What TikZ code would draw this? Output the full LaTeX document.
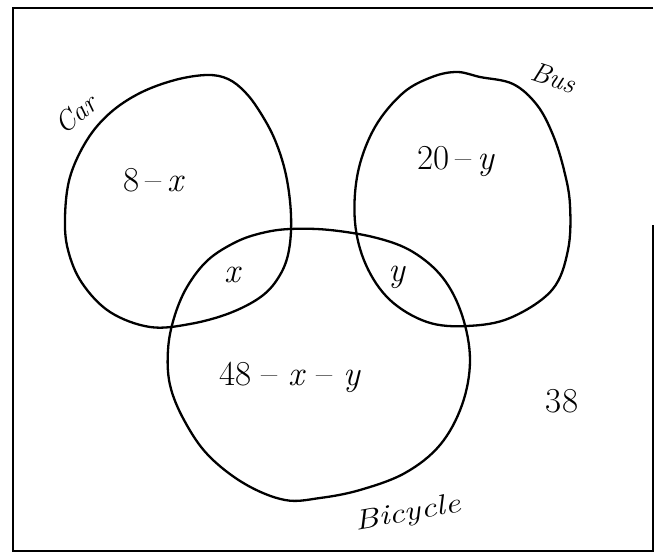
\documentclass[tikz,border=0pt]{standalone}
\usepackage{fontspec}
\begin{document}
\begin{tikzpicture}[x=1pt,y=-1pt,
  setline/.style={line width=2.3pt,line join=round,line cap=round},
  lbl/.style={font=\fontsize{35}{37}\selectfont,inner sep=0pt},
  setname/.style={font=\fontsize{28}{30}\selectfont\itshape,inner sep=0pt}]
\useasboundingbox (0,0) rectangle (654,553);
% frame
\draw[line width=2.4pt] (653,8) -- (13,8) -- (13,551) -- (653,551) -- (653,225);
% Car
\draw[setline] plot[smooth cycle,tension=0.6] coordinates {
 (207,75) (228,79) (245,92) (260,112) (275,140) (286,175) (291,215) (289,250)
 (280,275) (262,296) (230,313) (190,324) (150,327) (110,312) (82,283) (68,250)
 (65,217) (70,177) (87,140) (110,113) (140,93) (175,80)};
% Bus
\draw[setline] plot[smooth cycle,tension=0.6] coordinates {
 (457,72) (480,77) (513,84) (537,105) (553,135) (564,170) (570,205) (568,250)
 (552,290) (510,318) (467,326) (427,322) (390,300) (366,265) (355,222) (358,172)
 (375,127) (403,93) (432,77)};
% Bicycle
\draw[setline] plot[smooth cycle,tension=0.6] coordinates {
 (290,229) (330,230) (377,238) (413,252) (443,278) (462,315) (470,360) (462,405)
 (440,445) (405,473) (360,490) (320,498) (285,500) (245,484) (208,455) (184,420)
 (170,385) (168,350) (174,318) (187,287) (208,260) (236,242) (262,233)};
% labels
\node[setname,rotate=40] (car) at (76,114) {Car};
\node[setname,rotate=-18] (bus) at (554,78) {Bus};
\node[setname,rotate=10,xscale=1.25] (bic) at (408,514) {Bicycle};
\node[lbl] (a) at (154,180) {8\,–\,\textit{x}};
\node[lbl] (b) at (456,162) {20\,–\,\textit{y}};
\node[lbl] (c) at (233,275) {\textit{x}};
\node[lbl] (d) at (397,277) {\textit{y}};
\node[lbl] (e) at (290,377) {48 – \textit{x} – \textit{y}};
\node[lbl] (f) at (562,401) {38};
\end{tikzpicture}
\end{document}
